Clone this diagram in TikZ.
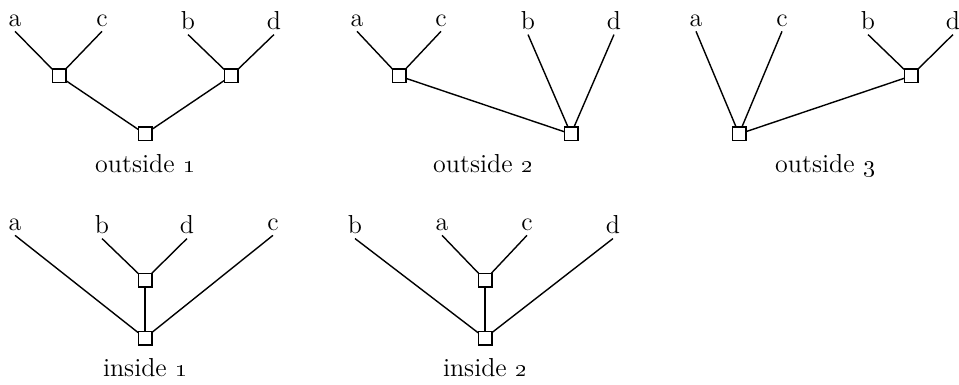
\documentclass[tikz,border=0pt]{standalone}
\begin{document}
\begin{tikzpicture}[x=0.5pt,y=-0.5pt,
  every node/.style={font=\fontsize{13}{15}\selectfont},
  leaf/.style={inner sep=2.2pt, outer sep=0pt},
  vbox/.style={draw, line width=0.7pt, minimum size=6.8pt, inner sep=0pt, outer sep=0pt},
  edge/.style={line width=0.7pt},
  caption/.style={anchor=base}]
\useasboundingbox (0,0) rectangle (959,385);
% outside 1
\node[leaf] (p1a) at (15,21) {a};
\node[leaf] (p1c) at (102,21) {c};
\node[leaf] (p1b) at (188,21) {b};
\node[leaf] (p1d) at (274,21) {d};
\node[vbox] (p1L) at (59,76) {};
\node[vbox] (p1R) at (231,76) {};
\node[vbox] (p1B) at (145,134) {};
\draw[edge] (p1a.south) -- (p1L);
\draw[edge] (p1c.south) -- (p1L);
\draw[edge] (p1b.south) -- (p1R);
\draw[edge] (p1d.south) -- (p1R);
\draw[edge] (p1L) -- (p1B);
\draw[edge] (p1R) -- (p1B);
\node[caption] (cap1) at (145,172) {outside \oldstylenums{1}};
% outside 2
\node[leaf] (p2a) at (357,21) {a};
\node[leaf] (p2c) at (441,21) {c};
\node[leaf] (p2b) at (528,21) {b};
\node[leaf] (p2d) at (614,21) {d};
\node[vbox] (p2L) at (399,76) {};
\node[vbox] (p2B) at (571,134) {};
\draw[edge] (p2a.south) -- (p2L);
\draw[edge] (p2c.south) -- (p2L);
\draw[edge] (p2b.south) -- (p2B);
\draw[edge] (p2d.south) -- (p2B);
\draw[edge] (p2L) -- (p2B);
\node[caption] (cap2) at (483,172) {outside \oldstylenums{2}};
% outside 3
\node[leaf] (p3a) at (696,21) {a};
\node[leaf] (p3c) at (782,21) {c};
\node[leaf] (p3b) at (868,21) {b};
\node[leaf] (p3d) at (953,21) {d};
\node[vbox] (p3B) at (739,134) {};
\node[vbox] (p3R) at (911,76) {};
\draw[edge] (p3a.south) -- (p3B);
\draw[edge] (p3c.south) -- (p3B);
\draw[edge] (p3b.south) -- (p3R);
\draw[edge] (p3d.south) -- (p3R);
\draw[edge] (p3R) -- (p3B);
\node[caption] (cap3) at (825,172) {outside \oldstylenums{3}};
% inside 1
\node[leaf] (q1a) at (15,225) {a};
\node[leaf] (q1b) at (102,225) {b};
\node[leaf] (q1d) at (187,225) {d};
\node[leaf] (q1c) at (273,225) {c};
\node[vbox] (q1U) at (145,280) {};
\node[vbox] (q1B) at (145,338) {};
\draw[edge] (q1b.south) -- (q1U);
\draw[edge] (q1d.south) -- (q1U);
\draw[edge] (q1U) -- (q1B);
\draw[edge] (q1a.south) -- (q1B);
\draw[edge] (q1c.south) -- (q1B);
\node[caption] (cap4) at (145,376) {inside \oldstylenums{1}};
% inside 2
\node[leaf] (q2b) at (355,225) {b};
\node[leaf] (q2a) at (442,225) {a};
\node[leaf] (q2c) at (527,225) {c};
\node[leaf] (q2d) at (613,225) {d};
\node[vbox] (q2U) at (485,280) {};
\node[vbox] (q2B) at (485,338) {};
\draw[edge] (q2a.south) -- (q2U);
\draw[edge] (q2c.south) -- (q2U);
\draw[edge] (q2U) -- (q2B);
\draw[edge] (q2b.south) -- (q2B);
\draw[edge] (q2d.south) -- (q2B);
\node[caption] (cap5) at (485,376) {inside \oldstylenums{2}};
\end{tikzpicture}
\end{document}
